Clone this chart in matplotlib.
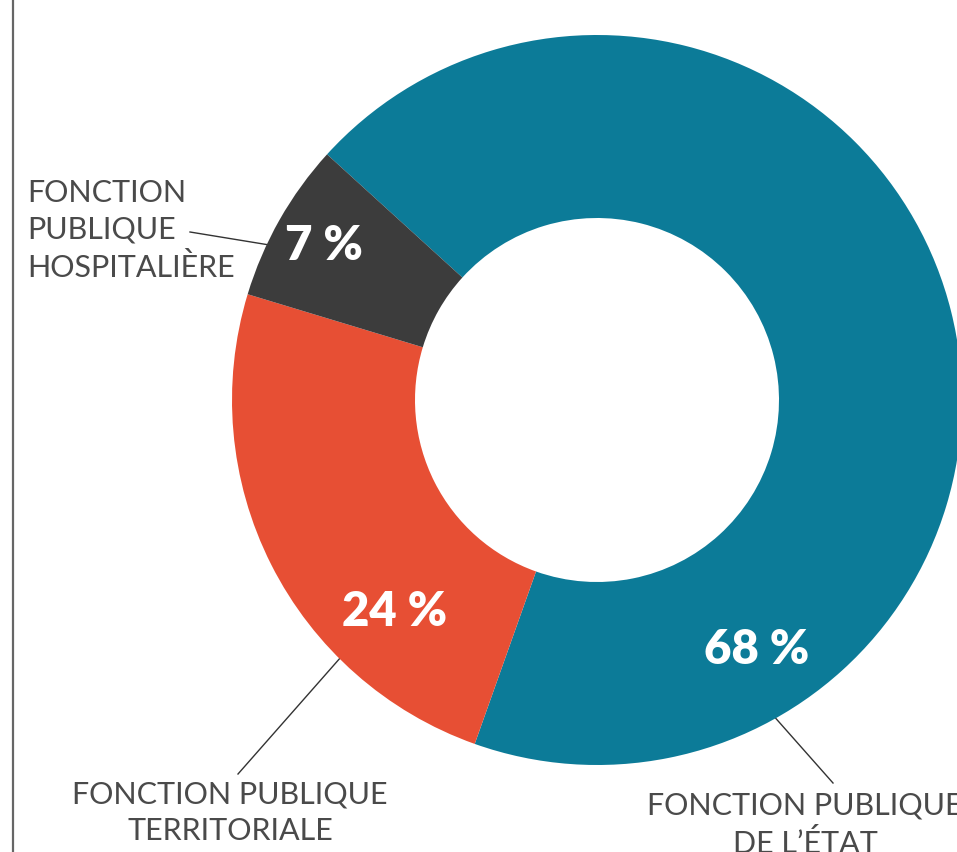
import matplotlib
matplotlib.use("Agg")
import matplotlib.pyplot as plt
from matplotlib.lines import Line2D

# Data
categories = ["FONCTION PUBLIQUE\nDE L’ÉTAT", "FONCTION PUBLIQUE\nTERRITORIALE", "FONCTION\nPUBLIQUE\nHOSPITALIÈRE"]
values = [68, 24, 7]
pct_labels = ["68 %", "24 %", "7 %"]
colors = ["#0C7B98", "#E74F34", "#3C3C3C"]

W, H = 957, 852
fig = plt.figure(figsize=(W / 100, H / 100), dpi=100)
ax = fig.add_axes([0, 0, 1, 1])

def Y(y):
    return H - y

cx, cy, R = 597, Y(400), 365
wedges, _ = ax.pie(values, colors=colors, startangle=137.7, counterclock=False,
                   center=(cx, cy), radius=R, frame=True,
                   wedgeprops=dict(width=R - 182, linewidth=0, antialiased=True))
for w in wedges:
    w.set_zorder(3)
ax.set_xlim(0, W)
ax.set_ylim(0, H)
ax.set_aspect("equal")
ax.axis("off")

txt_col = "#4a4a4a"
lab_font = dict(family=["Lato", "DejaVu Sans"], fontsize=22, color=txt_col, fontweight="normal")
num_font = dict(family=["Lato", "DejaVu Sans"], fontsize=34, color="white", fontweight="heavy")

# percentage labels
num_pos = [(757, 650), (395, 612), (324, 246)]
for (x, y), t in zip(num_pos, pct_labels):
    ax.text(x, Y(y), t, ha="center", va="center", zorder=5, **num_font)

# category labels
ax.text(230, Y(840), categories[1], ha="center", va="baseline", linespacing=1.38, zorder=5, **lab_font)
ax.text(805, Y(853), categories[0], ha="center", va="baseline", linespacing=1.38, zorder=5, **lab_font)
ax.text(27, Y(277), categories[2], ha="left", va="baseline", linespacing=1.38, zorder=5, **lab_font)

# leader lines (under the ring)
lc = "#333333"
for (x0, y0), (x1, y1) in [((833, 783), (733, 670)), ((238, 774), (363, 632)), ((190, 232), (300, 250))]:
    ax.add_line(Line2D([x0, x1], [Y(y0), Y(y1)], color=lc, lw=1.0, zorder=2))

# left frame line
ax.add_line(Line2D([13, 13], [0, H], color="#666666", lw=1.6, zorder=1))

fig.savefig("out.png", dpi=100)
